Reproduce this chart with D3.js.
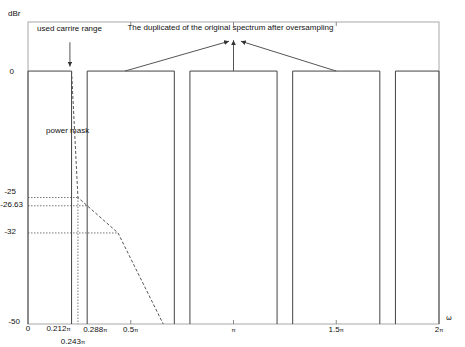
<!DOCTYPE html>
<html>
<head>
<meta charset="utf-8">
<script src="https://cdn.jsdelivr.net/npm/d3@7"></script>
<style>
  body { margin: 0; background: #fff; }
  text { font-family: "Liberation Sans", Arial, sans-serif; font-size: 8px; fill: #111; }
</style>
</head>
<body>
<div id="chart"></div>
<script>
// frequencies are in units of pi, levels in dBr

// pass bands of the oversampled spectrum (start, end)
var bands = [[0, 0.212], [0.288, 0.712], [0.788, 1.212], [1.288, 1.712], [1.788, 2]];

// power mask corner points [omega, dBr]
var maskPoints = [[0.212, 0], [0.243, -25], [0.438, -32], [0.658, -50]];

// reference levels with a dotted guide [dBr, omega where guide ends]
var guideLevels = [[-25, 0.243], [-26.63, 0.288], [-32, 0.438]];

// y tick labels
var yLabels = ["0", "-25", "-26.63", "-32", "-50"];
var yValues = [0, -25, -26.63, -32, -50];

// x tick labels
var xLabels = ["0", "0.212", "0.243", "0.288", "0.5", "", "1.5", "2"];
var xValues = [0, 0.212, 0.243, 0.288, 0.5, 1, 1.5, 2];
var majorTicks = [0.5, 1, 1.5];

// annotation arrows [from omega, from dBr, to omega, to dBr]
var arrows = [[0.472, 0, 0.978, 5.9], [1, 0, 1, 6.1], [1.5, 0, 1.036, 5.9], [0.204, 5.7, 0.204, 0.9]];

window.onload = function() {
  main();
};

function main() {
  var width = 465, height = 347;

  var svg = d3.select("#chart").append("svg")
    .attr("width", width)
    .attr("height", height);

  // scales
  var x = d3.scaleLinear().domain([0, 2]).range([28, 439]);
  var y = d3.scaleLinear().domain([-50, 9.7]).range([324, 22]);

  // arrow head
  svg.append("defs").append("marker")
    .attr("id", "head")
    .attr("viewBox", "0 0 10 10")
    .attr("refX", 10).attr("refY", 5)
    .attr("markerWidth", 5).attr("markerHeight", 5)
    .attr("markerUnits", "userSpaceOnUse")
    .attr("orient", "auto")
    .append("path")
    .attr("d", "M0,0 L10,5 L0,10 z")
    .attr("fill", "#333");

  // frame
  svg.append("rect")
    .attr("x", x(0)).attr("y", y(9.7))
    .attr("width", x(2) - x(0)).attr("height", y(-50) - y(9.7))
    .attr("fill", "none").attr("stroke", "#a8a8a8").attr("stroke-width", 1);

  // ticks on bottom and top
  majorTicks.forEach(function(t) {
    svg.append("line").attr("x1", x(t)).attr("x2", x(t))
      .attr("y1", y(-50)).attr("y2", y(-50) - 4).attr("stroke", "#888");
    svg.append("line").attr("x1", x(t)).attr("x2", x(t))
      .attr("y1", y(9.7)).attr("y2", y(9.7) + 4).attr("stroke", "#888");
  });

  // dotted guides
  guideLevels.forEach(function(g) {
    svg.append("line")
      .attr("x1", x(0)).attr("x2", x(g[1]))
      .attr("y1", y(g[0])).attr("y2", y(g[0]))
      .attr("stroke", "#777").attr("stroke-dasharray", "1.5,1.5");
  });
  svg.append("line")
    .attr("x1", x(0.243)).attr("x2", x(0.243))
    .attr("y1", y(-25)).attr("y2", y(-50))
    .attr("stroke", "#777").attr("stroke-dasharray", "1.5,1.5");

  // spectrum bands
  var line = d3.line().x(d => x(d[0])).y(d => y(d[1]));
  bands.forEach(function(b) {
    svg.append("path")
      .attr("d", line([[b[0], -50], [b[0], 0], [b[1], 0], [b[1], -50]]))
      .attr("fill", "none").attr("stroke", "#444").attr("stroke-width", 1);
  });

  // power mask
  svg.append("path")
    .attr("d", line(maskPoints))
    .attr("fill", "none").attr("stroke", "#555")
    .attr("stroke-dasharray", "3,2");

  // arrows
  arrows.forEach(function(a) {
    svg.append("line")
      .attr("x1", x(a[0])).attr("y1", y(a[1]))
      .attr("x2", x(a[2])).attr("y2", y(a[3]))
      .attr("stroke", "#555").attr("marker-end", "url(#head)");
  });

  // y labels
  var yOffsets = [0, -7, -2, -2, -3];
  var yEnds = [14, 16, 23, 16, 20];
  yValues.forEach(function(v, i) {
    svg.append("text")
      .attr("x", yEnds[i]).attr("y", y(v) + yOffsets[i] + 3)
      .attr("text-anchor", "end")
      .text(yLabels[i]);
  });

  // x labels
  var xAnchors = ["middle", "end", "middle", "start", "middle", "middle", "middle", "middle"];
  var xShift = [0, -1, -5, -4, 0, 0, 0, 0];
  var xRow = [331, 331, 344, 332, 332, 332, 332, 332];
  xValues.forEach(function(v, i) {
    var t = svg.append("text")
      .attr("x", x(v) + xShift[i]).attr("y", xRow[i])
      .attr("text-anchor", xAnchors[i]);
    t.append("tspan").text(xLabels[i]);
    if (v > 0) t.append("tspan").style("font-size", "6px").text("π");
  });

  // axis names
  svg.append("text").attr("x", 8).attr("y", 16).text("dBr");
  svg.append("text").attr("x", 446).attr("y", 320)
    .style("font-family", "'DejaVu Sans', sans-serif").style("font-size", "7px")
    .text("ω");

  // annotations
  svg.append("text").attr("x", x(0.044)).attr("y", y(7.9)).text("used carrire range");
  svg.append("text").attr("x", x(0.088)).attr("y", y(-12.2)).text("power mask");
  svg.append("text").attr("x", x(0.985)).attr("y", y(8.1))
    .attr("text-anchor", "middle")
    .text("The duplicated of the original spectrum after oversampling");
}
</script>
</body>
</html>
